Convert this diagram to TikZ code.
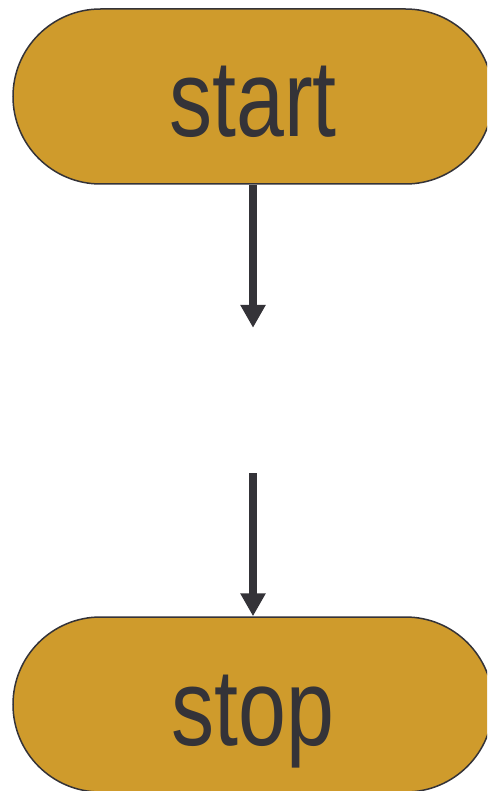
\documentclass[tikz,border=0pt]{standalone}
\usepackage{fontspec}
\setmainfont{Liberation Sans}
\newfontfamily\condfont[FakeStretch=0.79]{Liberation Sans}
\usetikzlibrary{arrows.meta}
\definecolor{gold}{HTML}{CF9B2C}
\definecolor{ink}{HTML}{343338}
\tikzset{
  term/.style={draw=ink, line width=1.5pt, fill=gold, rounded corners=87.5pt,
    minimum width=480pt, minimum height=175pt, inner sep=0pt,
    text=ink, font=\condfont\fontsize{109}{120}\selectfont, text height=81pt, text depth=0pt},
  hidden/.style={minimum width=1pt, minimum height=145pt, inner sep=0pt},
  flow/.style={draw=ink, line width=8pt, -{Triangle[width=24pt,length=23pt]}}
}
\begin{document}
\begin{tikzpicture}[x=1pt,y=-1pt]
\useasboundingbox (0,0) rectangle (487,791);
\clip (0,0) rectangle (487,791);
\node[term] (start) at (253,96.5) {start};
\node[hidden] (mid) at (253,400.5) {};
\node[term] (stop) at (253,704.5) {stop};
\draw[flow] (start) -- (mid);
\draw[flow] (mid) -- (stop);
\end{tikzpicture}
\end{document}
